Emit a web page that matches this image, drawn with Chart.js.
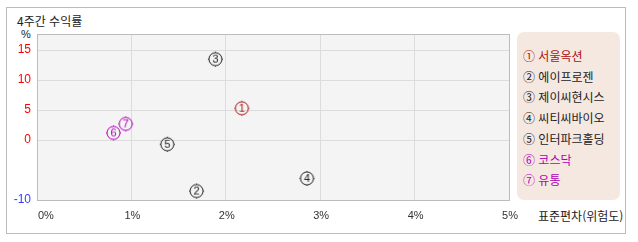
<!DOCTYPE html>
<html lang="ko">
<head>
<meta charset="utf-8">
<script src="https://cdn.jsdelivr.net/npm/chart.js@4/dist/chart.umd.min.js"></script>
<style>
  html, body { margin: 0; padding: 0; background: #fff; }
  body { width: 638px; height: 242px; position: relative; overflow: hidden;
         font-family: "Noto Sans CJK KR", "Noto Sans", sans-serif; font-size: 12px; color: #222; }
  .frame { position: absolute; left: 6px; top: 7px; width: 620px; height: 227px; border: 1px solid #bbb; box-sizing: border-box; }
  .title { position: absolute; left: 17px; top: 12px; line-height: 18px; }
  .unit { position: absolute; left: 21px; top: 27px; font-family: "Liberation Sans", sans-serif; font-size: 11px; line-height: 14px; }
  .xtitle { position: absolute; left: 538px; top: 207px; line-height: 18px; }
  .legend { position: absolute; left: 517px; top: 32px; width: 103px; height: 168px; background: #f5e8e1; border-radius: 7px; }
  .legend div { position: absolute; left: 6px; line-height: 18px; white-space: nowrap; }
  canvas { position: absolute; left: 0; top: 0; }
</style>
</head>
<body>
<div class="frame"></div>
<div class="title">4주간 수익률</div>
<div class="unit">%</div>
<div class="xtitle">표준편차(위험도)</div>
<div class="legend" id="legend"></div>
<canvas id="riskChart" width="638" height="242"></canvas>
<script>
// 종목 / 데이터
const names = ['서울옥션', '에이프로젠', '제이씨현시스', '씨티씨바이오', '인터파크홀딩', '코스닥', '유통'];
const risk = [2.17, 1.69, 1.89, 2.86, 1.38, 0.81, 0.94];      // 표준편차 (%)
const returns = [5.3, -8.5, 13.5, -6.4, -0.7, 1.2, 2.7];     // 4주간 수익률 (%)
const marks = ['①', '②', '③', '④', '⑤', '⑥', '⑦'];
const colors = ['#a81414', '#222', '#222', '#222', '#222', '#b000b8', '#b000b8'];
const xTicks = [0, 1, 2, 3, 4, 5];
const yTicks = [-10, 0, 5, 10, 15];

// 범례
const legend = document.getElementById('legend');
names.forEach((n, i) => {
    const d = document.createElement('div');
    d.textContent = marks[i] + ' ' + n;
    d.style.top = (15 + i * 20.7) + 'px';
    d.style.color = colors[i];
    legend.appendChild(d);
});

// 동그라미 숫자 마커
const makeMarker = (num, color) => {
    const c = document.createElement('canvas');
    c.width = 19; c.height = 19;
    const g = c.getContext('2d');
    g.strokeStyle = color;
    g.fillStyle = color;
    g.lineWidth = 1;
    g.beginPath();
    g.arc(9.5, 9.5, 6.5, 0, Math.PI * 2);
    g.stroke();
    // 작은 점
    g.fillRect(9, 2, 1, 1);
    g.fillRect(9, 16, 1, 1);
    g.fillRect(2, 9, 1, 1);
    g.fillRect(16, 9, 1, 1);
    g.font = '11px "Liberation Sans", sans-serif';
    g.textAlign = 'center';
    g.textBaseline = 'middle';
    g.fillText(String(num), 9.5, 10);
    return c;
};
const markers = names.map((n, i) => makeMarker(i + 1, colors[i]));

// 그래프 배경
const plotBg = {
    id: 'plotBg',
    beforeDraw(chart) {
        const { ctx, chartArea: a } = chart;
        ctx.save();
        ctx.fillStyle = '#f4f4f4';
        ctx.fillRect(a.left, a.top, a.right - a.left, a.bottom - a.top);
        ctx.restore();
    },
    afterDatasetsDraw(chart) {
        const { ctx, chartArea: a } = chart;
        ctx.save();
        ctx.strokeStyle = '#bcbcbc';
        ctx.lineWidth = 1;
        ctx.strokeRect(a.left + 0.5, a.top + 0.5, a.right - a.left, a.bottom - a.top);
        // x축 라벨
        const xs = chart.scales.x;
        ctx.fillStyle = '#333';
        ctx.font = '11px "Liberation Sans", sans-serif';
        ctx.textBaseline = 'middle';
        xTicks.forEach(v => {
            const px = xs.getPixelForValue(v);
            ctx.textAlign = v === 0 ? 'left' : 'center';
            ctx.fillText(v + '%', px + 1, a.bottom + 16);
        });
        ctx.restore();
    }
};

new Chart(document.getElementById('riskChart'), {
    type: 'scatter',
    data: {
        datasets: [{
            data: risk.map((r, i) => ({ x: r, y: returns[i] })),
            pointStyle: markers,
            pointRadius: 9,
            pointHoverRadius: 9
        }]
    },
    options: {
        responsive: false,
        animation: false,
        events: [],
        layout: { padding: { left: 0, top: 34, right: 129, bottom: 0 } },
        plugins: { legend: { display: false }, tooltip: { enabled: false } },
        scales: {
            x: {
                type: 'linear', min: 0, max: 5,
                afterBuildTicks: s => { s.ticks = xTicks.map(v => ({ value: v })); },
                afterFit: s => { s.height = 42; },
                grid: { color: '#dcdcdc', drawTicks: false },
                border: { display: false },
                ticks: { display: false }
            },
            y: {
                type: 'linear', min: -10, max: 17.7,
                afterBuildTicks: s => { s.ticks = yTicks.map(v => ({ value: v })); },
                afterFit: s => { s.width = 37; },
                grid: { color: '#dcdcdc', drawTicks: false },
                border: { display: false },
                ticks: {
                    padding: 6,
                    font: { family: '"Liberation Sans", sans-serif', size: 12 },
                    color: c => c.tick.value < 0 ? '#3b3bff' : '#ff0000'
                }
            }
        }
    },
    plugins: [plotBg]
});
</script>
</body>
</html>
